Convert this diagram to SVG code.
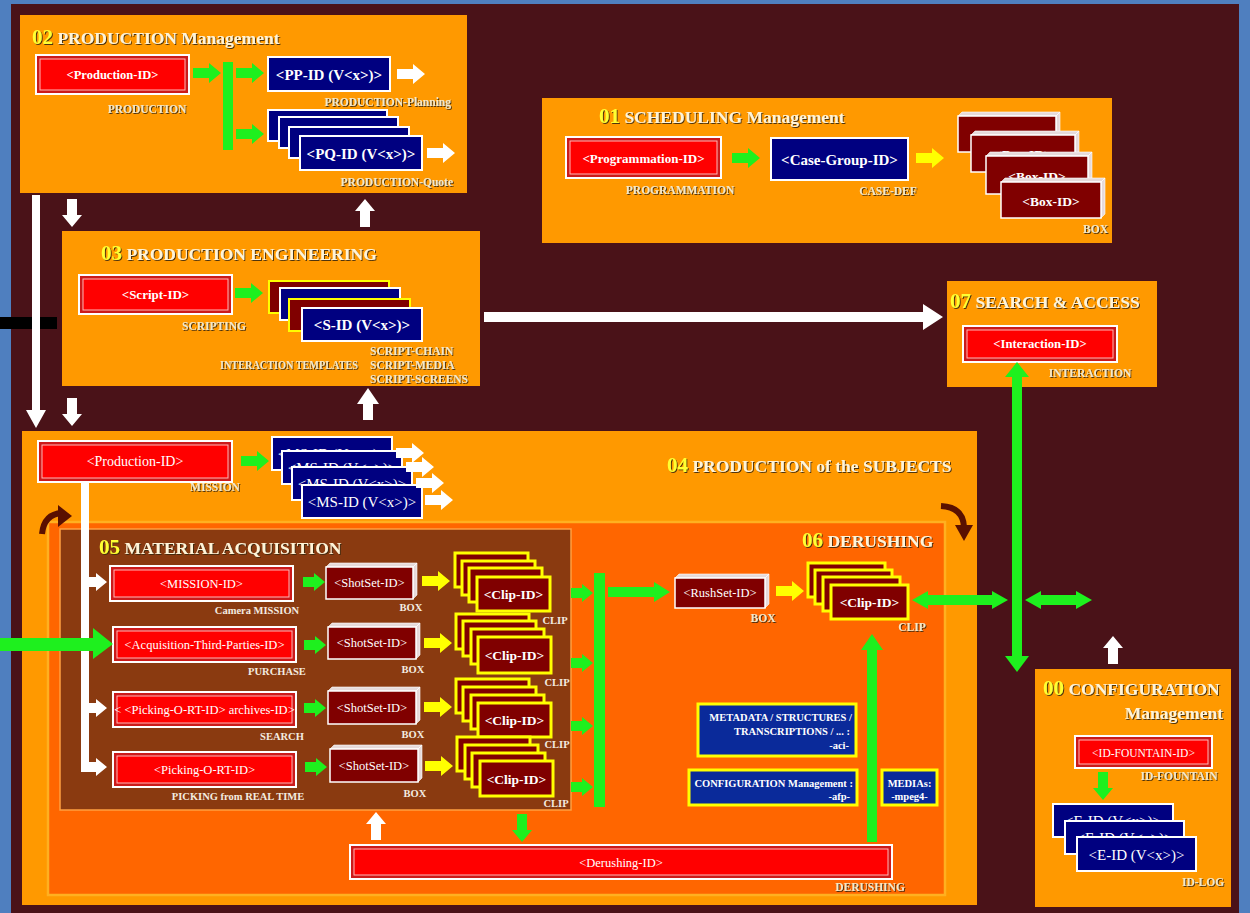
<svg xmlns="http://www.w3.org/2000/svg" xmlns:xlink="http://www.w3.org/1999/xlink" width="1250" height="913" viewBox="0 0 1250 913">
<style>
text{font-family:"Liberation Serif",serif}
.ti{font-size:17.5px;font-weight:bold;fill:#fff4d8;filter:url(#sh)}
.num{fill:#ffff33;font-size:21px}
.lb{font-size:11.5px;font-weight:bold;fill:#f4e8c8;filter:url(#sh)}
.lw{font-size:10.5px;font-weight:bold;fill:#f4ece0}
.bx{fill:#fff;text-anchor:middle}
.b{font-weight:bold}
.mid{text-anchor:middle}
.end{text-anchor:end}
.ro{fill:#cc1a1a;stroke:#fff;stroke-width:2}
.ri{fill:#ff0000;stroke:#ffb8b8;stroke-width:1}
.navy{fill:#000080;stroke:#fff;stroke-width:2}
.dr{fill:#800000;stroke:#fff;stroke-width:1.5}
.face{fill:#e6dada;stroke:#fff;stroke-width:0.6}
.clip{fill:#800000;stroke:#ffff00;stroke-width:3}
.sy{fill:#800000;stroke:#ffff00;stroke-width:2}
.nb{fill:#0a2a9a;stroke:#ffff00;stroke-width:3}
.g{fill:#1ef01e}
.w{fill:#fff}
.y{fill:#ffff00}
.cv{fill:none;stroke:#5a1000;stroke-width:6}
</style>
<defs>
<filter id="sh" x="-5%" y="-20%" width="110%" height="150%"><feDropShadow dx="1" dy="1" stdDeviation="0.4" flood-color="#3a2a10" flood-opacity="0.9"/></filter>
<path id="ar" d="M0,-5 H16 V-10 L28,0 L16,10 V5 H0 Z"/>
<path id="as" d="M0,-5 H11 V-9 L22,0 L11,9 V5 H0 Z"/>
</defs>

<rect x="0" y="0" width="1250" height="913" fill="#4f7fbf"/>
<rect x="11" y="4" width="1228" height="909" fill="#4a1218"/>

<!-- 02 PRODUCTION Management -->
<g id="sec02">
<rect x="20" y="15" width="447" height="178" fill="#ff9900"/>
<text x="32" y="44" class="ti"><tspan class="num">02</tspan> PRODUCTION Management</text>
<g id="n-prod-id"><rect class="ro" x="36" y="55" width="153" height="39"/><rect class="ri" x="40" y="59" width="145" height="31"/><text x="112.5" y="79" class="bx b" font-size="12.5">&lt;Production-ID&gt;</text></g>
<text x="147" y="113" class="lb mid">PRODUCTION</text>
<g id="n-pp"><rect class="navy" x="268" y="57" width="122" height="34"/><text x="329" y="80" class="bx b" font-size="15">&lt;PP-ID (V&lt;x&gt;)&gt;</text></g>
<text x="451" y="106" class="lb end">PRODUCTION-Planning</text>
<g id="n-pq">
<rect class="navy" x="268" y="110" width="119" height="31"/>
<rect class="navy" x="279" y="117" width="119" height="31"/>
<rect class="navy" x="289" y="127" width="120" height="31"/>
<rect class="navy" x="300" y="136" width="122" height="34"/>
<text x="361" y="159" class="bx b" font-size="15">&lt;PQ-ID (V&lt;x&gt;)&gt;</text>
</g>
<text x="453" y="186" class="lb end">PRODUCTION-Quote</text>
</g>

<!-- 01 SCHEDULING Management -->
<g id="sec01">
<rect x="542" y="98" width="570" height="145" fill="#ff9900"/>
<text x="599" y="123" class="ti"><tspan class="num">01</tspan> SCHEDULING Management</text>
<g id="n-prog"><rect class="ro" x="566" y="137" width="155" height="41"/><rect class="ri" x="570" y="141" width="147" height="33"/><text x="643.5" y="163" class="bx b" font-size="13">&lt;Programmation-ID&gt;</text></g>
<text x="680" y="194" class="lb mid">PROGRAMMATION</text>
<g id="n-case"><rect class="navy" x="771" y="138" width="137" height="42"/><text x="839.5" y="165" class="bx b" font-size="15">&lt;Case-Group-ID&gt;</text></g>
<text x="888" y="195" class="lb mid">CASE-DEF</text>
<g id="n-box">
<path class="face" d="M958,116 l4,-4 h98 l-4,4 Z M1056,116 l4,-4 v36 l-4,4 Z"/><rect class="dr" x="958" y="116" width="98" height="36"/><text x="1007" y="140" class="bx b" font-size="13.5">&lt;Box-ID&gt;</text>
<path class="face" d="M971,135 l4,-4 h104 l-4,4 Z M1075,135 l4,-4 v37 l-4,4 Z"/><rect class="dr" x="971" y="135" width="104" height="37"/><text x="1023" y="159" class="bx b" font-size="13.5">&lt;Box-ID&gt;</text>
<path class="face" d="M986,156 l4,-4 h102 l-4,4 Z M1088,156 l4,-4 v38 l-4,4 Z"/><rect class="dr" x="986" y="156" width="102" height="38"/><text x="1037" y="181" class="bx b" font-size="13.5">&lt;Box-ID&gt;</text>
<path class="face" d="M1001,182 l4,-4 h100 l-4,4 Z M1101,182 l4,-4 v36 l-4,4 Z"/><rect class="dr" x="1001" y="182" width="100" height="36"/><text x="1051" y="206" class="bx b" font-size="13.5">&lt;Box-ID&gt;</text>
</g>
<text x="1108" y="233" class="lb end">BOX</text>
</g>

<!-- 03 PRODUCTION ENGINEERING -->
<g id="sec03">
<rect x="62" y="231" width="418" height="155" fill="#ff9900"/>
<text x="101" y="260" class="ti"><tspan class="num">03</tspan> PRODUCTION ENGINEERING</text>
<g id="n-script"><rect class="ro" x="79" y="275" width="153" height="39"/><rect class="ri" x="83" y="279" width="145" height="31"/><text x="155.5" y="299" class="bx b" font-size="13">&lt;Script-ID&gt;</text></g>
<text x="214" y="330" class="lb mid">SCRIPTING</text>
<g id="n-sid">
<rect class="sy" x="269" y="281" width="120" height="32"/>
<rect class="navy" x="280" y="288" width="120" height="32"/>
<rect class="sy" x="289" y="299" width="121" height="32"/>
<rect class="navy" x="302" y="308" width="120" height="33"/>
<text x="362" y="330" class="bx b" font-size="15">&lt;S-ID (V&lt;x&gt;)&gt;</text>
</g>
<text x="220" y="369" class="lb" font-size="10" textLength="138" lengthAdjust="spacingAndGlyphs">INTERACTION TEMPLATES</text>
<text x="370" y="355" class="lb" font-size="10.5">SCRIPT-CHAIN</text>
<text x="370" y="369" class="lb" font-size="10.5">SCRIPT-MEDIA</text>
<text x="370" y="383" class="lb" font-size="10.5">SCRIPT-SCREENS</text>
</g>

<rect x="0" y="317" width="57" height="12" fill="#000"/>

<!-- 07 SEARCH & ACCESS -->
<g id="sec07">
<rect x="947" y="281" width="210" height="106" fill="#ff9900"/>
<text x="950" y="308" class="ti"><tspan class="num">07</tspan> SEARCH &amp; ACCESS</text>
<g id="n-inter"><rect class="ro" x="963" y="326" width="154" height="36"/><rect class="ri" x="967" y="330" width="146" height="28"/><text x="1040" y="348" class="bx b" font-size="12.7">&lt;Interaction-ID&gt;</text></g>
<text x="1090" y="377" class="lb mid">INTERACTION</text>
</g>

<!-- 04 PRODUCTION of the SUBJECTS -->
<g id="sec04">
<rect x="22" y="431" width="955" height="474" fill="#ff9900"/>
<rect x="48" y="522" width="897" height="373" fill="#ff6600" stroke="#ffb020" stroke-width="2.5"/>
<text x="667" y="472" class="ti" font-size="17"><tspan class="num">04</tspan> PRODUCTION of the SUBJECTS</text>
<g id="n-prod-mission"><rect class="ro" x="38" y="441" width="194" height="41"/><rect class="ri" x="42" y="445" width="186" height="33"/><text x="135" y="466" class="bx" font-size="14">&lt;Production-ID&gt;</text></g>
<text x="215" y="491" class="lb mid" font-size="9">MISSION</text>
<g id="n-ms">
<rect class="navy" x="272" y="437" width="120" height="33"/>
<text x="332" y="459" class="bx" font-size="15">&lt;MS-ID (V&lt;x&gt;)&gt;</text>
<rect class="navy" x="282" y="451" width="120" height="33"/>
<text x="342" y="473" class="bx" font-size="15">&lt;MS-ID (V&lt;x&gt;)&gt;</text>
<rect class="navy" x="292" y="467" width="120" height="33"/>
<text x="352" y="489" class="bx" font-size="15">&lt;MS-ID (V&lt;x&gt;)&gt;</text>
<rect class="navy" x="302" y="485" width="120" height="33"/>
<text x="362" y="507" class="bx" font-size="15">&lt;MS-ID (V&lt;x&gt;)&gt;</text>
</g>
<path class="cv" d="M42,534 Q44,514 62,513"/>
<path d="M58,505 L72,516 L58,527 Z" fill="#5a1000"/>
<path class="cv" d="M941,506 Q963,507 964,527"/>
<path d="M955,525 L973,525 L964,541 Z" fill="#5a1000"/>
</g>

<!-- 05 MATERIAL ACQUISITION -->
<g id="sec05">
<rect x="60" y="529" width="511" height="281" fill="#8a3a10" stroke="#ffa040" stroke-width="1.5"/>
<text x="99" y="554" class="ti" font-size="14.5"><tspan class="num" font-size="18">05</tspan> MATERIAL ACQUISITION</text>
<g id="n-mission"><rect class="ro" x="110" y="566" width="183" height="35"/><rect class="ri" x="114" y="570" width="175" height="27"/><text x="201.5" y="588" class="bx" font-size="12.5">&lt;MISSION-ID&gt;</text></g>
<text x="257" y="614" class="lw mid">Camera MISSION</text>
<g id="n-acq"><rect class="ro" x="113" y="627" width="183" height="35"/><rect class="ri" x="117" y="631" width="175" height="27"/><text x="204.5" y="649" class="bx" font-size="12.5">&lt;Acquisition-Third-Parties-ID&gt;</text></g>
<text x="277" y="675" class="lw mid">PURCHASE</text>
<g id="n-arch"><rect class="ro" x="113" y="692" width="183" height="35"/><rect class="ri" x="117" y="696" width="175" height="27"/><text x="204.5" y="714" class="bx" font-size="12.5">&lt; &lt;Picking-O-RT-ID&gt; archives-ID&gt;</text></g>
<text x="282" y="740" class="lw mid">SEARCH</text>
<g id="n-pick"><rect class="ro" x="113" y="752" width="183" height="35"/><rect class="ri" x="117" y="756" width="175" height="27"/><text x="204.5" y="774" class="bx" font-size="12.5">&lt;Picking-O-RT-ID&gt;</text></g>
<text x="238" y="800" class="lw mid">PICKING from REAL TIME</text>

<g id="n-shot1"><path class="face" d="M326,567 l4,-4 h87 l-4,4 Z M413,567 l4,-4 v32 l-4,4 Z"/><rect class="dr" x="326" y="567" width="87" height="32"/><text x="369.5" y="587" class="bx" font-size="12.5">&lt;ShotSet-ID&gt;</text></g>
<g id="n-shot2"><path class="face" d="M328,627 l4,-4 h88 l-4,4 Z M416,627 l4,-4 v32 l-4,4 Z"/><rect class="dr" x="328" y="627" width="88" height="32"/><text x="372" y="647" class="bx" font-size="12.5">&lt;ShotSet-ID&gt;</text></g>
<g id="n-shot3"><path class="face" d="M328,691 l4,-4 h88 l-4,4 Z M416,691 l4,-4 v33 l-4,4 Z"/><rect class="dr" x="328" y="691" width="88" height="33"/><text x="372" y="712" class="bx" font-size="12.5">&lt;ShotSet-ID&gt;</text></g>
<g id="n-shot4"><path class="face" d="M330,749 l4,-4 h88 l-4,4 Z M418,749 l4,-4 v33 l-4,4 Z"/><rect class="dr" x="330" y="749" width="88" height="33"/><text x="374" y="770" class="bx" font-size="12.5">&lt;ShotSet-ID&gt;</text></g>
<text x="411" y="611" class="lw mid">BOX</text>
<text x="413" y="673" class="lw mid">BOX</text>
<text x="413" y="738" class="lw mid">BOX</text>
<text x="415" y="797" class="lw mid">BOX</text>

<g id="n-clip1">
<rect class="clip" x="455" y="553" width="73" height="34"/><rect class="clip" x="462" y="561" width="73" height="34"/><rect class="clip" x="469" y="568" width="73" height="34"/><rect class="clip" x="477" y="577" width="73" height="34"/>
<text x="513.5" y="599" class="bx b" font-size="13.5">&lt;Clip-ID&gt;</text></g>
<g id="n-clip2">
<rect class="clip" x="456" y="614" width="73" height="35"/><rect class="clip" x="463" y="621" width="73" height="35"/><rect class="clip" x="471" y="629" width="73" height="35"/><rect class="clip" x="478" y="637" width="73" height="36"/>
<text x="514.5" y="660" class="bx b" font-size="13.5">&lt;Clip-ID&gt;</text></g>
<g id="n-clip3">
<rect class="clip" x="456" y="679" width="73" height="34"/><rect class="clip" x="463" y="687" width="73" height="34"/><rect class="clip" x="471" y="695" width="73" height="34"/><rect class="clip" x="478" y="703" width="73" height="34"/>
<text x="514.5" y="725" class="bx b" font-size="13.5">&lt;Clip-ID&gt;</text></g>
<g id="n-clip4">
<rect class="clip" x="457" y="737" width="73" height="34"/><rect class="clip" x="465" y="745" width="73" height="34"/><rect class="clip" x="472" y="753" width="73" height="34"/><rect class="clip" x="480" y="761" width="73" height="35"/>
<text x="516.5" y="784" class="bx b" font-size="13.5">&lt;Clip-ID&gt;</text></g>
<text x="555" y="624" class="lw mid">CLIP</text>
<text x="557" y="686" class="lw mid">CLIP</text>
<text x="557" y="748" class="lw mid">CLIP</text>
<text x="556" y="807" class="lw mid">CLIP</text>
</g>

<!-- 06 DERUSHING -->
<g id="sec06">
<text x="802" y="547" class="ti" font-size="14.5"><tspan class="num" font-size="18">06</tspan> DERUSHING</text>
<g id="n-rush"><path class="face" d="M675,578 l4,-4 h90 l-4,4 Z M765,578 l4,-4 v30 l-4,4 Z"/><rect class="dr" x="675" y="578" width="90" height="30"/><text x="720" y="597" class="bx" font-size="12.5">&lt;RushSet-ID&gt;</text></g>
<text x="763" y="622" class="lb mid">BOX</text>
<g id="n-dclip">
<rect class="clip" x="808" y="563" width="77" height="34"/><rect class="clip" x="815" y="570" width="77" height="34"/><rect class="clip" x="823" y="577" width="77" height="34"/><rect class="clip" x="831" y="585" width="77" height="34"/>
<text x="869.5" y="607" class="bx b" font-size="13.5">&lt;Clip-ID&gt;</text></g>
<text x="912" y="631" class="lb mid">CLIP</text>
<g id="n-meta"><rect class="nb" x="698" y="704" width="158" height="52"/>
<text x="852" y="721" class="bx end b" font-size="10.5">METADATA / STRUCTURES /</text>
<text x="850" y="735" class="bx end b" font-size="10.5">TRANSCRIPTIONS / ... :</text>
<text x="849" y="749" class="bx end b" font-size="10.5">-aci-</text></g>
<g id="n-conf"><rect class="nb" x="689" y="770" width="168" height="35"/>
<text x="853" y="787" class="bx end b" font-size="10.5">CONFIGURATION Management :</text>
<text x="850" y="800" class="bx end b" font-size="10.5">-afp-</text></g>
<g id="n-media"><rect class="nb" x="882" y="770" width="55" height="35"/>
<text x="909.5" y="787" class="bx b" font-size="10.5">MEDIAs:</text>
<text x="909.5" y="800" class="bx b" font-size="10.5">-mpeg4-</text></g>
<g id="n-derush"><rect class="ro" x="350" y="845" width="542" height="34"/><rect class="ri" x="354" y="849" width="534" height="26"/><text x="621" y="867" class="bx" font-size="12.5">&lt;Derushing-ID&gt;</text></g>
<text x="870" y="891" class="lb mid">DERUSHING</text>
</g>

<!-- 00 CONFIGURATION Management -->
<g id="sec00">
<rect x="1035" y="669" width="196" height="238" fill="#ff9900"/>
<text x="1043" y="695" class="ti"><tspan class="num">00</tspan> CONFIGURATION</text>
<text x="1223" y="719" class="ti end">Management</text>
<g id="n-fount"><rect class="ro" x="1075" y="736" width="137" height="32"/><rect class="ri" x="1079" y="740" width="129" height="24"/><text x="1143.5" y="757" class="bx" font-size="11.5">&lt;ID-FOUNTAIN-ID&gt;</text></g>
<text x="1179" y="780" class="lb mid" font-size="10">ID-FOUNTAIN</text>
<g id="n-eid">
<rect class="navy" x="1053" y="804" width="120" height="33"/><text x="1113" y="826" class="bx" font-size="15">&lt;E-ID (V&lt;x&gt;)&gt;</text>
<rect class="navy" x="1065" y="821" width="119" height="33"/><text x="1124.5" y="843" class="bx" font-size="15">&lt;E-ID (V&lt;x&gt;)&gt;</text>
<rect class="navy" x="1077" y="837" width="119" height="34"/><text x="1136.5" y="860" class="bx" font-size="15">&lt;E-ID (V&lt;x&gt;)&gt;</text>
</g>
<text x="1203" y="886" class="lb mid" font-size="10">ID-LOG</text>
</g>

<!-- connectors -->
<g id="connectors">
<use href="#ar" class="g" transform="translate(193,73)"/>
<rect class="g" x="223" y="62" width="10" height="88"/>
<use href="#ar" class="g" transform="translate(236,73)"/>
<use href="#ar" class="g" transform="translate(236,134)"/>
<use href="#ar" class="w" transform="translate(397,74)"/>
<use href="#ar" class="w" transform="translate(427,153)"/>
<use href="#ar" class="g" transform="translate(235,293)"/>
<use href="#ar" class="g" transform="translate(732,158)"/>
<use href="#ar" class="y" transform="translate(916,158)"/>
<path class="w" d="M32,195 H40 V410 H46 L36,428 L26,410 H32 Z"/>
<use href="#ar" class="w" transform="translate(72,199) rotate(90)"/>
<use href="#ar" class="w" transform="translate(365,227) rotate(-90)"/>
<use href="#ar" class="w" transform="translate(72,398) rotate(90)"/>
<path class="w" d="M363,420 V404 H357 L368,388 L379,404 H373 V420 Z"/>
<path class="w" d="M484,312 H923 V304 L943,317 L923,330 V322 H484 Z"/>
<use href="#ar" class="g" transform="translate(241,461)"/>
<use href="#ar" class="w" transform="translate(396,453)"/>
<use href="#ar" class="w" transform="translate(406,467)"/>
<use href="#ar" class="w" transform="translate(416,483)"/>
<use href="#ar" class="w" transform="translate(425,500)"/>
<rect class="w" x="81" y="482" width="8" height="290"/>
<use href="#as" class="w" transform="translate(85,582)"/>
<use href="#as" class="w" transform="translate(85,708)"/>
<use href="#as" class="w" transform="translate(85,767)"/>
<path class="g" d="M0,638 H93 V628 L113,644 L93,659 V651 H0 Z"/>
<use href="#as" class="g" transform="translate(303,582)"/>
<use href="#as" class="g" transform="translate(304,645)"/>
<use href="#as" class="g" transform="translate(304,708)"/>
<use href="#as" class="g" transform="translate(305,767)"/>
<use href="#ar" class="y" transform="translate(422,581)"/>
<use href="#ar" class="y" transform="translate(424,643)"/>
<use href="#ar" class="y" transform="translate(424,707)"/>
<use href="#ar" class="y" transform="translate(425,766)"/>
<use href="#as" class="g" transform="translate(571,593)"/>
<use href="#as" class="g" transform="translate(571,663)"/>
<use href="#as" class="g" transform="translate(571,726)"/>
<use href="#as" class="g" transform="translate(571,787)"/>
<rect class="g" x="594" y="573" width="11" height="234"/>
<path class="g" d="M608,587 H654 V582 L670,592 L654,602 V597 H608 Z"/>
<use href="#ar" class="y" transform="translate(776,591)"/>
<path class="g" d="M912,600 L928,591 V595 H992 V591 L1008,600 L992,609 V605 H928 V609 Z"/>
<path class="g" d="M1025,600 L1041,591 V595 H1076 V591 L1092,600 L1076,609 V605 H1041 V609 Z"/>
<path class="g" d="M1017,362 L1029,377 H1022 V656 H1029 L1017,672 L1005,656 H1012 V377 H1005 Z"/>
<path class="g" d="M867,842 V650 H861 L872,634 L883,650 H877 V842 Z"/>
<use href="#ar" class="w" transform="translate(376,840) rotate(-90)"/>
<use href="#ar" class="g" transform="translate(522,814) rotate(90)"/>
<use href="#ar" class="w" transform="translate(1113,664) rotate(-90)"/>
<use href="#ar" class="g" transform="translate(1103,772) rotate(90)"/>
</g>
</svg>
